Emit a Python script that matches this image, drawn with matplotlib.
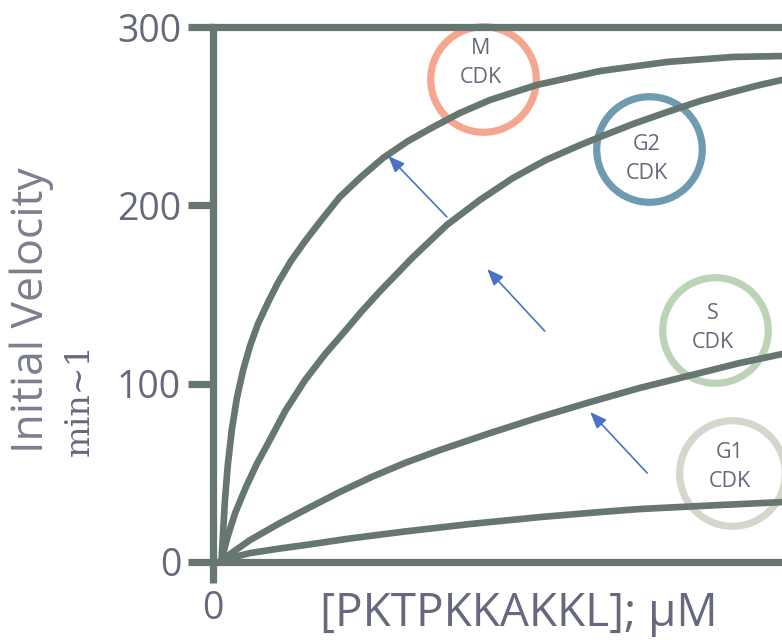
import matplotlib
matplotlib.use('Agg')
import matplotlib.pyplot as plt

plt.rcParams.update({
    'font.family': 'Open Sans',
    'axes.spines.right': False,
})

AXIS = '#667772'
TXT = '#66697d'

# substrate concentration (read per curve) and initial velocity
x_m = [1.5, 1.8, 2.1, 2.6, 3.3, 4.2, 5.3, 6.5, 7.9, 9.7, 11.4, 13.7, 16.2,
       19.2, 22.3, 26.0, 29.9, 34.3, 38.7, 43.4, 48.7, 56.9, 68.0, 79.8, 91.4, 100]
v_m = [1, 17.9, 34.8, 54.4, 74.0, 92.0, 107.7, 121.1, 133.5, 145.8, 156.5, 168.8, 180.0,
       192.4, 204.7, 215.9, 226.6, 236.1, 243.9, 251.8, 259.1, 267.5, 275.3, 280.4, 283.2, 283.7]

x_g2 = [1.5, 2.5, 3.9, 5.8, 7.7, 9.7, 12.7, 16.2, 19.7, 23.2, 26.2, 29.4, 35.0,
        41.1, 46.9, 52.7, 58.5, 64.5, 68.0, 73.8, 79.8, 85.6, 91.4, 96.1, 100]
v_g2 = [1, 13.5, 27.5, 42.1, 55.0, 66.7, 84.7, 102.1, 116.6, 129.5, 140.8, 152.0, 170.5,
        189.0, 203.0, 215.3, 225.4, 233.8, 238.3, 245.6, 252.3, 258.5, 263.6, 267.5, 270.3]

x_s = [1.5, 6.5, 11.8, 17.1, 22.3, 27.9, 33.7, 39.9, 48.7, 57.5, 66.3, 75.0, 85.6, 92.6, 100]
v_s = [1, 12.3, 21.9, 30.8, 39.3, 47.7, 55.5, 62.8, 72.3, 81.3, 89.7, 97.6, 106.0, 111.6, 116.6]

x_g1 = [1.5, 6.5, 11.8, 16.2, 24.1, 33.7, 45.2, 57.5, 68.0, 75.0, 85.6, 100]
v_g1 = [1, 5.0, 7.6, 9.5, 13.2, 17.1, 21.3, 25.2, 28.0, 29.7, 31.4, 33.6]

# phase labels, circle centres and colours
phases = ['M', 'G2', 'S', 'G1']
circle_x = [47.5, 76.6, 88.2, 91.2]
circle_y = [270.8, 231.6, 130.1, 49.9]
label_y = [280, 226, 131, 53]
circle_colors = ['#f4a78e', '#6f9bb1', '#bcd3b8', '#d8d6cb']

yticks = [0, 100, 200, 300]

fig = plt.figure(figsize=(7.82, 6.4), dpi=100)
ax = fig.add_axes([213/782, 78/640, 1 - 213/782, 535/640])

# circles (drawn under the curves)
for cx, cy, col in zip(circle_x, circle_y, circle_colors):
    ax.plot(cx, cy, 'o', ms=76, mfc='none', mec=col, mew=5.2,
            clip_on=False, zorder=1)
for name, cx, ly in zip(phases, circle_x, label_y):
    ax.text(cx - 0.4, ly, f'{name}\nCDK', ha='center', va='center',
            fontsize=15.5, color=TXT, linespacing=1.5, zorder=2)

for xs, vs in [(x_m, v_m), (x_g2, v_g2), (x_s, v_s), (x_g1, v_g1)]:
    ax.plot(xs, vs, color=AXIS, lw=4.8, solid_joinstyle='round',
            solid_capstyle='round', zorder=3)

# blue arrows pointing to the next phase
arrows = [((41.1, 193.5), (30.8, 227.7)),
          ((58.3, 129.5), (48.2, 164.3)),
          ((76.3, 49.9), (66.3, 84.1))]
for tail, head in arrows:
    ax.annotate('', xy=head, xytext=tail,
                arrowprops=dict(arrowstyle='-|>,head_length=1.0,head_width=0.4',
                                color='#4a73c6', lw=1.2, shrinkA=0, shrinkB=0),
                zorder=4)

ax.set_xlim(0, 100)
ax.set_ylim(0, 300)
ax.set_xticks([0])
ax.set_yticks(yticks)
for s in ['left', 'top', 'bottom']:
    ax.spines[s].set_color(AXIS)
    ax.spines[s].set_linewidth(5.2)
ax.tick_params(axis='both', direction='out', length=18, width=5.2,
               color=AXIS, labelcolor=TXT, labelsize=27, pad=5)
ax.tick_params(axis='x', length=15, pad=5)

fig.text(519/782, 1 - 614/640, '[PKTPKKAKKL]; μM', ha='center', va='center',
         fontsize=33, color=TXT)
fig.text(32/782, 1 - 310/640, 'Initial Velocity', rotation=90,
         ha='center', va='center', fontsize=32, color='#7b7e90')
fig.text(80/782, 1 - 400/640, 'min~1', rotation=90, ha='center', va='center',
         fontsize=24, color=TXT, family='DejaVu Serif')

fig.savefig('out.png', dpi=100, facecolor='white')
